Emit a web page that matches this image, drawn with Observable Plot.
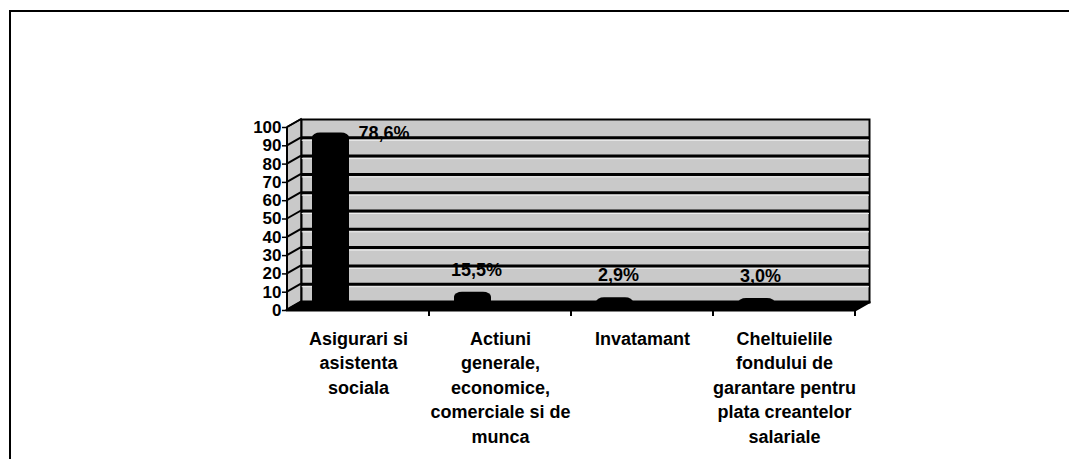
<!DOCTYPE html>
<html><head><meta charset="utf-8">
<script src="https://cdn.jsdelivr.net/npm/d3@7"></script>
<script src="https://cdn.jsdelivr.net/npm/@observablehq/plot@0.6"></script>
<style>
html,body{margin:0;padding:0;background:#fff;width:1069px;height:459px;overflow:hidden;}
#wrap{position:relative;width:1069px;height:459px;}
#border{position:absolute;left:9px;top:10px;width:1080px;height:480px;border-top:2px solid #000;border-left:2px solid #000;}
#chart{position:absolute;left:0;top:0;}
</style></head><body>
<div id="wrap"><div id="border"></div><div id="chart"></div></div>
<script>
const categories = [
  "Asigurari si\nasistenta\nsociala",
  "Actiuni\ngenerale,\neconomice,\ncomerciale si de\nmunca",
  "Invatamant",
  "Cheltuielile\nfondului de\ngarantare pentru\nplata creantelor\nsalariale"
];
const barHeights = [97, 10, 7, 6.5];
const valueLabels = ["78,6%", "15,5%", "2,9%", "3,0%"];
const yTicks = [0, 10, 20, 30, 40, 50, 60, 70, 80, 90, 100];

const data = categories.map((c, i) => ({cat: c, h: barHeights[i], label: valueLabels[i]}));
const DX = 14, DY = -8;
const FONT = "'Liberation Sans', Arial, sans-serif";
const WALL = "#c9c9c9";

function walls(index, scales, values, dims) {
  const y = scales.y;
  const left = dims.marginLeft, right = dims.width - dims.marginRight;
  const n = categories.length, bw = (right - left) / n;
  const y0 = y(0), yTop = y(100);
  const g = d3.create("svg:g");
  g.append("path")
    .attr("d", `M${left},${y0}L${left},${yTop}L${left + DX},${yTop + DY}L${left + DX},${y0 + DY}Z`)
    .attr("fill", WALL).attr("stroke", "#000").attr("stroke-width", 1.5);
  for (const t of yTicks) {
    g.append("line").attr("x1", left).attr("y1", y(t)).attr("x2", left + DX).attr("y2", y(t) + DY)
      .attr("stroke", "#000").attr("stroke-width", 2);
  }
  g.append("path")
    .attr("d", `M${left},${y0}L${right},${y0}L${right + DX},${y0 + DY}L${left + DX},${y0 + DY}Z`)
    .attr("fill", "#000").attr("stroke", "#000").attr("stroke-width", 3).attr("stroke-linejoin", "round");
  g.append("line").attr("x1", left).attr("y1", y0 + 1).attr("x2", left).attr("y2", yTop)
    .attr("stroke", "#000").attr("stroke-width", 2);
  for (let i = 1; i <= n; i++) {
    const xb = left + i * bw;
    g.append("line").attr("x1", xb).attr("y1", y0).attr("x2", xb).attr("y2", y0 + 6)
      .attr("stroke", "#000").attr("stroke-width", 2);
  }
  return g.node();
}

const chart = Plot.plot({
  width: 1069,
  height: 459,
  marginLeft: 287,
  marginRight: 214,
  marginTop: 127,
  marginBottom: 149,
  style: {fontFamily: FONT, fontWeight: "bold", fontSize: "17px", color: "#000", background: "transparent"},
  x: {domain: categories, padding: 0, axis: null, label: null},
  y: {domain: [0, 100], axis: null, label: null},
  marks: [
    Plot.frame({fill: WALL, stroke: "#000", strokeWidth: 2, dx: DX, dy: DY}),
    Plot.ruleY(yTicks.filter(t => t > 0 && t < 100), {dx: DX, dy: DY, stroke: "#000", strokeWidth: 3}),
    Plot.ruleY(yTicks.filter(t => t > 0 && t < 100), {dx: DX, dy: DY + 2.5, stroke: "#eeeeee", strokeWidth: 1}),
    walls,
    Plot.barY(data, {x: "cat", y: "h", fill: "#000", insetLeft: 25, insetRight: 80, rx: 8, ry: 5}),
    Plot.axisY(yTicks, {label: null, tickSize: 5, tickPadding: 1, fontSize: 17, fontWeight: "bold", stroke: "#000", strokeWidth: 1.5}),
    Plot.text(data, {filter: (d, i) => i === 0, x: "cat", y: "h", text: "label", textAnchor: "start", dx: 0, dy: 0, fontSize: 18, fontWeight: "bold", fill: "#000"}),
    Plot.text(data, {filter: (d, i) => i > 0, x: "cat", y: "h", text: "label", dx: -24, dy: -22, fontSize: 18, fontWeight: "bold", fill: "#000"}),
    Plot.text(data, {x: "cat", text: "cat", frameAnchor: "bottom", lineAnchor: "top", dy: 17, fontSize: 18, fontWeight: "bold", lineHeight: 1.36, fill: "#000"})
  ]
});
document.getElementById("chart").appendChild(chart);
</script>
</body></html>
